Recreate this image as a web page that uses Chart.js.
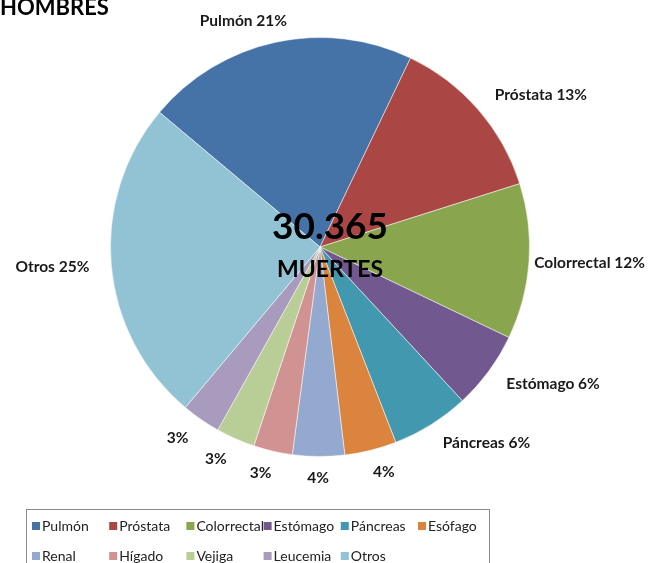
<!DOCTYPE html>
<html>
<head>
<meta charset="utf-8">
<script src="https://cdn.jsdelivr.net/npm/chart.js@4"></script>
<style>
  html, body { margin: 0; padding: 0; background: #fff; }
  #wrap { position: relative; width: 648px; height: 563px; }
</style>
</head>
<body>
<div id="wrap"><canvas id="chart"></canvas></div>
<script>
const categories = ["Pulmón", "Próstata", "Colorrectal", "Estómago", "Páncreas", "Esófago", "Renal", "Hígado", "Vejiga", "Leucemia", "Otros"];
const percentages = [21, 13, 12, 6, 6, 4, 4, 3, 3, 3, 25];
// which slice labels carry the category name as well as the %
const showName = [true, true, true, true, true, false, false, false, false, false, true];
const colors = ["#4572A7", "#AA4643", "#89A54E", "#71588F", "#4198AF", "#DB843D", "#93A9CF", "#D19392", "#B9CD96", "#A99BBD", "#92C3D4"];
const title = "HOMBRES";
const totalDeaths = "30.365";
const centerLabel = "MUERTES";

const LABEL_FONT = "bold 15.5px Lato";
const TEXT_COLOR = "#1a1a1a";

const pieExtras = {
  id: "pieExtras",
  afterDraw(chart) {
    const ctx = chart.ctx;
    const arcs = chart.getDatasetMeta(0).data;
    ctx.save();

    // title, cut off at the top-left like the original
    ctx.font = "bold 22px Lato";
    ctx.fillStyle = "#000";
    ctx.textAlign = "left";
    ctx.textBaseline = "alphabetic";
    ctx.fillText(title, 0, 15);

    // slice labels, Excel "outside end" style: anchor point just past the rim,
    // box hangs off to the side away from the centre
    ctx.font = LABEL_FONT;
    ctx.fillStyle = TEXT_COLOR;
    ctx.textAlign = "center";
    ctx.textBaseline = "middle";
    let cx = 0, cy = 0;
    arcs.forEach((arc, i) => {
      const p = arc.getProps(["x", "y", "startAngle", "endAngle", "outerRadius"], true);
      cx = p.x; cy = p.y;
      const mid = (p.startAngle + p.endAngle) / 2;
      const txt = (showName[i] ? categories[i] + " " : "") + percentages[i] + "%";
      const w = ctx.measureText(txt).width;
      const d = p.outerRadius + 22;
      const ux = Math.cos(mid);
      let lx = p.x + d * ux + Math.sign(ux) * (w / 2) * Math.min(1, Math.abs(ux) * 3);
      const ly = p.y + d * Math.sin(mid);
      lx = Math.min(lx, chart.width - 3 - w / 2);
      lx = Math.max(lx, 3 + w / 2);
      ctx.fillText(txt, lx, ly);
    });

    // total in the middle
    ctx.fillStyle = "#000";
    ctx.textBaseline = "alphabetic";
    ctx.font = "bold 37px Lato";
    ctx.fillText(totalDeaths, cx + 10, cy - 8);
    ctx.font = "bold 23px Lato";
    ctx.fillText(centerLabel, cx + 10, cy + 30);

    // legend box at the bottom
    const boxL = 26, boxT = 509, boxR = 489;
    ctx.strokeStyle = "#8c8c8c";
    ctx.lineWidth = 1;
    ctx.strokeRect(boxL + 0.5, boxT + 0.5, boxR - boxL, 70);
    ctx.font = "14px Lato";
    ctx.textAlign = "left";
    ctx.textBaseline = "middle";
    const perRow = 6, colW = 77.2, rowH = 30;
    categories.forEach((name, i) => {
      const col = i % perRow, row = Math.floor(i / perRow);
      const x = 32 + col * colW;
      const y = 526 + row * rowH;
      ctx.fillStyle = colors[i];
      ctx.fillRect(x, y - 4, 8, 8);
      ctx.fillStyle = "#222";
      ctx.fillText(name, x + 10, y);
    });

    ctx.restore();
  }
};

const ctx = document.getElementById("chart").getContext("2d");
new Chart(ctx, {
  type: "pie",
  data: {
    labels: categories,
    datasets: [
      {
        data: percentages,
        backgroundColor: colors,
        borderColor: "rgba(255,255,255,0.5)",
        borderWidth: 1,
      },
    ],
  },
  options: {
    responsive: true,
    maintainAspectRatio: false,
    animation: false,
    rotation: -50,
    layout: { padding: { top: 37, bottom: 106, left: 110, right: 118 } },
    plugins: {
      legend: { display: false },
      tooltip: { enabled: false },
    },
  },
  plugins: [pieExtras],
});
</script>
</body>
</html>
